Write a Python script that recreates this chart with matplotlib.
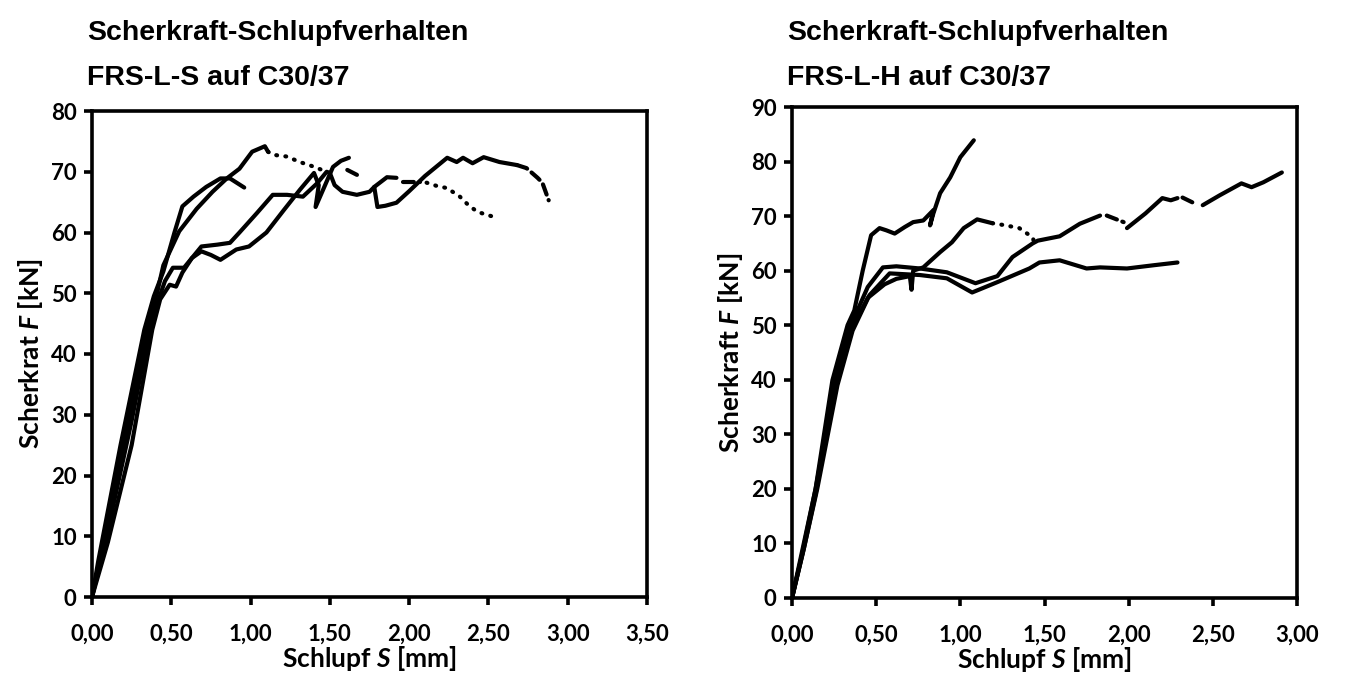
import numpy as np
import matplotlib.pyplot as plt
from matplotlib.ticker import FuncFormatter

plt.rcParams['font.family'] = ['Lato', 'DejaVu Sans']
plt.rcParams['font.weight'] = 'bold'
plt.rcParams['mathtext.fontset'] = 'custom'
plt.rcParams['mathtext.it'] = 'Lato:bold:italic'
plt.rcParams['mathtext.rm'] = 'Lato:bold'

# FRS-L-S auf C30/37 (left)
ls_a_s = [0, 0.04, 0.18, 0.33, 0.39, 0.45, 0.52, 0.57, 0.64, 0.72, 0.81, 0.87, 0.96]
ls_a_f = [0, 6, 25, 44, 49.5, 53.6, 60, 64.3, 65.9, 67.5, 68.9, 68.9, 67.4]

ls_b_s = [0, 0.07, 0.2, 0.35, 0.41, 0.45, 0.55, 0.66, 0.76, 0.85, 0.93, 1.01, 1.09, 1.11]
ls_b_f = [0, 8, 25, 45, 50, 54.6, 60.2, 63.9, 66.7, 68.9, 70.5, 73.3, 74.2, 73.3]
ls_b_dot1_s = [1.11, 1.14, 1.23, 1.31, 1.37, 1.45]
ls_b_dot1_f = [73.3, 72.8, 72.5, 71.6, 71.1, 70.3]
ls_b_dash1_s = [1.61, 1.70]
ls_b_dash1_f = [70.3, 69.1]
ls_b_2_s = [1.78, 1.86, 1.92]
ls_b_2_f = [67.5, 69.1, 69.0]
ls_b_dash2_s = [1.96, 2.07]
ls_b_dash2_f = [68.3, 68.3]
ls_b_dot2_s = [2.11, 2.17, 2.24, 2.32, 2.37, 2.43, 2.53]
ls_b_dot2_f = [68.2, 67.7, 67.3, 65.9, 64.6, 63.4, 62.6]

ls_c_s = [0, 0.1, 0.25, 0.38, 0.43, 0.49, 0.53, 0.57, 0.63, 0.69, 0.75, 0.81, 0.91, 0.99,
          1.10, 1.21, 1.31, 1.40, 1.43, 1.41, 1.47, 1.52, 1.57, 1.62]
ls_c_f = [0, 9, 25, 44, 49, 51.4, 51.1, 53.4, 55.8, 56.9, 56.3, 55.5, 57.2, 57.7,
          60, 63.7, 67, 69.8, 67.8, 64.2, 67.8, 70.8, 71.8, 72.3]

ls_d_s = [0, 0.1, 0.25, 0.37, 0.42, 0.46, 0.51, 0.58, 0.69, 0.79, 0.87, 0.93, 1.04, 1.14,
          1.23, 1.33, 1.42, 1.48, 1.50, 1.53, 1.58, 1.67, 1.75, 1.78, 1.80, 1.85, 1.92,
          2.0, 2.1, 2.24, 2.30, 2.34, 2.40, 2.47, 2.57, 2.68]
ls_d_f = [0, 11, 29, 45, 49, 52, 54.2, 54.2, 57.7, 58, 58.3, 60, 63.2, 66.2,
          66.2, 65.9, 68.1, 70, 69.8, 67.8, 66.7, 66.2, 66.7, 67.5, 64.2, 64.4, 64.9,
          66.8, 69.3, 72.3, 71.6, 72.3, 71.4, 72.4, 71.6, 71.1]
ls_d_dash_s = [2.68, 2.74, 2.81, 2.84, 2.88]
ls_d_dash_f = [71.1, 70.6, 69.0, 68.2, 65.3]

# FRS-L-H auf C30/37 (right)
lh_a_s = [0, 0.06, 0.14, 0.24, 0.33, 0.37, 0.42, 0.47, 0.52, 0.56, 0.61, 0.67, 0.72, 0.78,
          0.84, 0.82, 0.84, 0.88, 0.94, 1.00, 1.08]
lh_a_f = [0, 8, 20, 39.9, 50, 52.7, 60, 66.5, 67.8, 67.4, 66.8, 68, 68.9, 69.2,
          71.1, 68.3, 70.5, 74.2, 77.1, 80.8, 83.9]

lh_b_s = [0, 0.07, 0.14, 0.25, 0.35, 0.45, 0.55, 0.62, 0.70, 0.71, 0.72, 0.78, 0.88, 0.95,
          1.02, 1.10, 1.19]
lh_b_f = [0, 9, 19, 38, 49, 55, 57.5, 58.5, 59, 56.5, 60, 60.6, 63.4, 65.2,
          67.8, 69.4, 68.7]
lh_b_dot_s = [1.19, 1.27, 1.35, 1.43, 1.44]
lh_b_dot_f = [68.7, 68.3, 67.8, 66.1, 65]

lh_c_s = [0, 0.07, 0.14, 0.26, 0.35, 0.45, 0.54, 0.62, 0.76, 0.92, 1.09, 1.22, 1.31, 1.43,
          1.46, 1.59, 1.71, 1.83]
lh_c_f = [0, 10, 20, 40, 50, 57, 60.6, 60.8, 60.4, 59.7, 57.7, 59, 62.5, 65,
          65.5, 66.3, 68.6, 70.1]
lh_c_dash1_s = [1.87, 1.97]
lh_c_dash1_f = [70.1, 68.9]
lh_c_2_s = [1.99, 2.10, 2.20, 2.25, 2.29]
lh_c_2_f = [67.8, 70.5, 73.3, 72.9, 73.3]
lh_c_dash2_s = [2.32, 2.38]
lh_c_dash2_f = [73.4, 72.5]
lh_c_3_s = [2.44, 2.54, 2.67, 2.73, 2.80, 2.91]
lh_c_3_f = [72, 73.8, 76, 75.3, 76.2, 78]

lh_d_s = [0, 0.07, 0.15, 0.27, 0.36, 0.46, 0.58, 0.76, 0.92, 1.07, 1.22, 1.41, 1.47, 1.59,
          1.75, 1.83, 1.99, 2.15, 2.29]
lh_d_f = [0, 9, 20, 39, 49, 55.5, 59.5, 59.2, 58.6, 56, 57.9, 60.4, 61.5, 61.9,
          60.4, 60.6, 60.4, 61, 61.5]

left_title = ["Scherkraft-Schlupfverhalten", "FRS-L-S auf C30/37"]
right_title = ["Scherkraft-Schlupfverhalten", "FRS-L-H auf C30/37"]

solid = "-"
dotted = (0, (0.2, 2.0))
dashed = (0, (2.6, 1.4))

left_lines = [
    (ls_a_s, ls_a_f, solid), (ls_b_s, ls_b_f, solid), (ls_b_dot1_s, ls_b_dot1_f, dotted),
    (ls_b_dash1_s, ls_b_dash1_f, dashed), (ls_b_2_s, ls_b_2_f, solid),
    (ls_b_dash2_s, ls_b_dash2_f, dashed), (ls_b_dot2_s, ls_b_dot2_f, dotted),
    (ls_c_s, ls_c_f, solid), (ls_d_s, ls_d_f, solid), (ls_d_dash_s, ls_d_dash_f, dashed),
]
right_lines = [
    (lh_a_s, lh_a_f, solid), (lh_b_s, lh_b_f, solid), (lh_b_dot_s, lh_b_dot_f, dotted),
    (lh_c_s, lh_c_f, solid), (lh_c_dash1_s, lh_c_dash1_f, dashed), (lh_c_2_s, lh_c_2_f, solid),
    (lh_c_dash2_s, lh_c_dash2_f, dashed), (lh_c_3_s, lh_c_3_f, solid), (lh_d_s, lh_d_f, solid),
]

fig = plt.figure(figsize=(13.52, 6.77), dpi=100)
ax1 = fig.add_axes([92 / 1352, 80 / 677, 555 / 1352, 486 / 677])
ax2 = fig.add_axes([792 / 1352, 79 / 677, 505 / 1352, 491 / 677])

comma2 = FuncFormatter(lambda v, p: ("%.2f" % v).replace(".", ","))

for ax, lines, xmax, ymax, ylab in [(ax1, left_lines, 3.5, 80, "Scherkrat $F$ [kN]"),
                                    (ax2, right_lines, 3.0, 90, "Scherkraft $F$ [kN]")]:
    for s, f, style in lines:
        ax.plot(s, f, color="black", lw=3.0, ls=style, solid_capstyle="round",
                dash_capstyle="round", solid_joinstyle="round")
    ax.set_xlim(0, xmax)
    ax.set_ylim(0, ymax)
    ax.set_xticks(np.arange(0, xmax + 0.01, 0.5))
    ax.set_yticks(np.arange(0, ymax + 1, 10))
    ax.xaxis.set_major_formatter(comma2)
    for sp in ax.spines.values():
        sp.set_linewidth(2.6)
    ax.tick_params(direction="out", length=6, width=2.6, labelsize=16, pad=13)
    ax.tick_params(axis="y", pad=5)
    ax.set_xlabel("Schlupf $S$ [mm]", fontsize=19, fontweight="bold", labelpad=0)
    ax.set_ylabel(ylab, fontsize=19, fontweight="bold", labelpad=4)

for x0, title in [(87, left_title), (787, right_title)]:
    fig.text(x0 / 1352, 1 - 33 / 677, title[0], fontsize=20.5, fontweight="bold",
             family="Liberation Sans", va="center", ha="left")
    fig.text(x0 / 1352, 1 - 78 / 677, title[1], fontsize=20.5, fontweight="bold",
             family="Liberation Sans", va="center", ha="left")

plt.savefig("out.png", dpi=100)
